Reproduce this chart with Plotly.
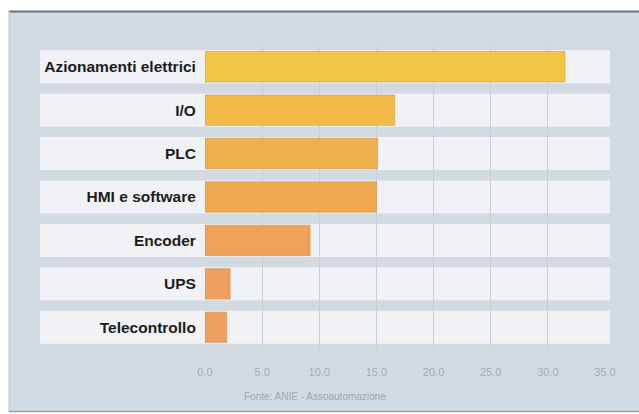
import plotly.graph_objects as go

categories = ["Azionamenti elettrici", "I/O", "PLC", "HMI e software", "Encoder", "UPS", "Telecontrollo"]
values = [31.5, 16.6, 15.1, 15.0, 9.2, 2.2, 1.9]
bar_colors = ["#f3c646", "#f2bb48", "#f0b14c", "#efaa50", "#f0a358", "#efa05e", "#efa060"]
tick_vals = [0, 5, 10, 15, 20, 25, 30, 35]
tick_text = ["0.0", "5.0", "10.0", "15.0", "20.0", "25.0", "30.0", "35.0"]
source = "Fonte: ANIE - Assoautomazione"

W, H = 639, 414
ml, mr, mt, mb = 205, 34, 45, 65
pw = W - ml - mr
ph = H - mt - mb

def px_x(p):
    return (p - ml) / pw

def px_y(p):
    return 1 - (p - mt) / ph

fig = go.Figure()
fig.add_trace(go.Bar(
    y=categories, x=values, orientation="h",
    marker=dict(color=bar_colors, line=dict(color="rgba(190,130,60,0.45)", width=1)),
    width=0.7,
    hoverinfo="x+y",
))

shapes = [
    dict(type="rect", xref="paper", yref="paper", x0=px_x(9), x1=px_x(639), y0=px_y(412), y1=px_y(11),
         fillcolor="#d3dbe2", line=dict(width=0), layer="below"),
    dict(type="line", xref="paper", yref="paper", x0=px_x(9), x1=px_x(639), y0=px_y(11.5), y1=px_y(11.5),
         line=dict(color="#6d7378", width=2), layer="below"),
    dict(type="line", xref="paper", yref="paper", x0=px_x(9), x1=px_x(9), y0=px_y(412), y1=px_y(11),
         line=dict(color="#b9c2ca", width=1), layer="below"),
    dict(type="line", xref="paper", yref="paper", x0=px_x(9), x1=px_x(639), y0=px_y(411.5), y1=px_y(411.5),
         line=dict(color="#9aa2a9", width=1.5), layer="below"),
]
for i, c in enumerate(categories):
    shapes.append(dict(type="rect", xref="paper", yref="y", x0=px_x(40), x1=px_x(610),
                       y0=i - 0.38, y1=i + 0.38, fillcolor="#f0f2f5", line=dict(width=0), layer="below"))

fig.update_layout(
    width=W, height=H,
    margin=dict(l=ml, r=mr, t=mt, b=mb),
    paper_bgcolor="white",
    plot_bgcolor="rgba(0,0,0,0)",
    showlegend=False,
    shapes=shapes,
    xaxis=dict(range=[0, 35], tickvals=tick_vals, ticktext=tick_text,
               showgrid=True, gridcolor="#c9d0d7", gridwidth=1, zeroline=False,
               ticks="outside", ticklen=13, tickcolor="rgba(0,0,0,0)",
               tickfont=dict(family="Liberation Sans Narrow, Arial Narrow, Arial", size=11, color="#a3abb3"),
               showline=False, fixedrange=True),
    yaxis=dict(categoryorder="array", categoryarray=categories,
               showgrid=False, zeroline=False,
               ticks="outside", ticklen=5, tickcolor="rgba(0,0,0,0)",
               tickfont=dict(family="Liberation Sans Narrow, Arial Narrow, Arial", size=15.5, color="#1c1c1c",
                             weight="bold"),
               showline=False, fixedrange=True),
    annotations=[dict(text=source, xref="paper", yref="paper", x=px_x(315), y=px_y(396),
                      showarrow=False, xanchor="center", yanchor="middle",
                      font=dict(family="Liberation Sans Narrow, Arial Narrow, Arial", size=10, color="#9ea7b0"))],
)
fig.update_yaxes(range=[6.5, -0.5], autorange=False)

fig.write_html("out.html", config={"displayModeBar": False},
               post_script="document.body.style.margin='0';document.body.style.padding='0';")
